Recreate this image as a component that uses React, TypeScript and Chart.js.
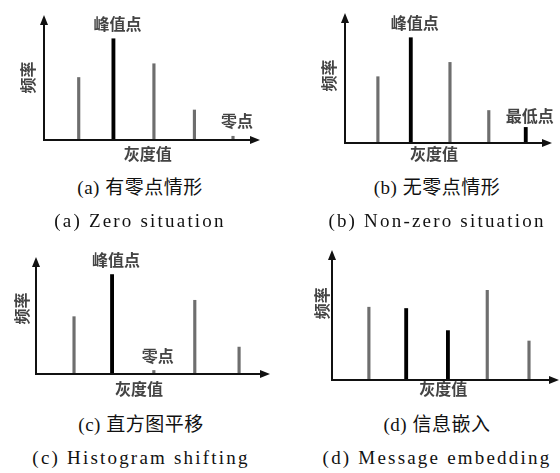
import React, { useEffect, useRef } from "react";
import { Chart, registerables } from "chart.js";

Chart.register(...registerables);

// ---- data (gray levels, frequencies, bar roles) ----
const LEVELS_A = [0.9, 1.8, 2.85, 3.9, 4.9];
const FREQ_A = [50, 81, 61, 24, 3];
const ROLE_A = ["n", "p", "n", "n", "n"];
const NOTES_A = [
  { text: "峰值点", at: 1 },
  { text: "零点", at: 4 },
];

const LEVELS_B = [0.89, 1.78, 2.84, 3.89, 4.89];
const FREQ_B = [51, 81, 62, 25, 12];
const ROLE_B = ["n", "p", "n", "n", "p"];
const NOTES_B = [
  { text: "峰值点", at: 1 },
  { text: "最低点", at: 4 },
];

const LEVELS_C = [0.91, 1.82, 2.82, 3.8, 4.86];
const FREQ_C = [49, 85, 3, 63, 23];
const ROLE_C = ["n", "p", "n", "n", "n"];
const NOTES_C = [
  { text: "峰值点", at: 1 },
  { text: "零点", at: 2 },
];

const LEVELS_D = [0.91, 1.83, 2.86, 3.83, 4.86];
const FREQ_D = [56, 55, 38, 69, 30];
const ROLE_D = ["n", "p", "p", "n", "n"];
const NOTES_D: { text: string; at: number }[] = [];

const X_TITLE = "灰度值";
const Y_TITLE = "频率";

const CAPTIONS_CN = ["(a) 有零点情形", "(b) 无零点情形", "(c) 直方图平移", "(d) 信息嵌入"];
const CAPTIONS_EN = ["(a) Zero situation", "(b) Non-zero situation", "(c) Histogram shifting", "(d) Message embedding"];

// ---- layout ----
type PanelLayout = {
  left: number; top: number; w: number; h: number;
  pad: { left: number; right: number; top: number; bottom: number };
  xTitleFrac: number; xTitleDy: number; yTitleDx: number; yTitleFrac: number;
};

const PANELS: { levels: number[]; freq: number[]; role: string[]; notes: { text: string; at: number }[]; layout: PanelLayout }[] = [
  { levels: LEVELS_A, freq: FREQ_A, role: ROLE_A, notes: NOTES_A,
    layout: { left: 0, top: 0, w: 280, h: 165, pad: { left: 44, right: 20, top: 15, bottom: 25 }, xTitleFrac: 0.48, xTitleDy: 14, yTitleDx: 16, yTitleFrac: 0.5 } },
  { levels: LEVELS_B, freq: FREQ_B, role: ROLE_B, notes: NOTES_B,
    layout: { left: 280, top: 0, w: 280, h: 165, pad: { left: 65, right: 8, top: 13, bottom: 22 }, xTitleFrac: 0.43, xTitleDy: 11, yTitleDx: 16, yTitleFrac: 0.48 } },
  { levels: LEVELS_C, freq: FREQ_C, role: ROLE_C, notes: NOTES_C,
    layout: { left: 0, top: 230, w: 280, h: 170, pad: { left: 36, right: 10, top: 27, bottom: 26 }, xTitleFrac: 0.44, xTitleDy: 15, yTitleDx: 14, yTitleFrac: 0.44 } },
  { levels: LEVELS_D, freq: FREQ_D, role: ROLE_D, notes: NOTES_D,
    layout: { left: 280, top: 230, w: 280, h: 170, pad: { left: 52, right: 1, top: 20, bottom: 20 }, xTitleFrac: 0.49, xTitleDy: 9, yTitleDx: 10, yTitleFrac: 0.41 } },
];

const CJK = '"Noto Sans CJK SC", "Noto Sans", sans-serif';
const GRAY = "#6e6e6e";
const TEXT = "#444";

function drawArrowAxes(chart: any) {
  const { ctx, chartArea } = chart;
  const { left, right, top, bottom } = chartArea;
  ctx.save();
  ctx.strokeStyle = "#111";
  ctx.fillStyle = "#111";
  ctx.lineWidth = 2;
  ctx.beginPath();
  ctx.moveTo(left, bottom);
  ctx.lineTo(right - 6, bottom);
  ctx.moveTo(left, bottom + 1);
  ctx.lineTo(left, top + 6);
  ctx.stroke();
  // x arrow
  ctx.beginPath();
  ctx.moveTo(right, bottom);
  ctx.lineTo(right - 10, bottom - 4);
  ctx.lineTo(right - 10, bottom + 4);
  ctx.closePath();
  ctx.fill();
  // y arrow
  ctx.beginPath();
  ctx.moveTo(left, top);
  ctx.lineTo(left - 4, top + 10);
  ctx.lineTo(left + 4, top + 10);
  ctx.closePath();
  ctx.fill();
  ctx.restore();
}

function Panel({ idx }: { idx: number }) {
  const ref = useRef<HTMLCanvasElement>(null);
  const p = PANELS[idx];
  const L = p.layout;
  useEffect(() => {
    if (!ref.current) return;
    const pts = p.levels.map((x, i) => ({ x, y: p.freq[i], r: p.role[i] }));
    const peak = pts.filter((d) => d.r === "p");
    const normal = pts.filter((d) => d.r !== "p");
    const plugin = {
      id: "decor" + idx,
      afterDatasetsDraw(chart: any) {
        drawArrowAxes(chart);
        const { ctx, chartArea, scales } = chart;
        ctx.save();
        ctx.fillStyle = TEXT;
        ctx.font = "bold 16px " + CJK;
        ctx.textAlign = "center";
        ctx.textBaseline = "middle";
        p.notes.forEach((n) => {
          const x = scales.x.getPixelForValue(p.levels[n.at]);
          const y = scales.y.getPixelForValue(p.freq[n.at]);
          const dy = p.freq[n.at] > 8 && p.freq[n.at] < 20 ? 11 : 15;
          ctx.fillText(n.text, x + 4, y - dy);
        });
        // x title
        const xc = chartArea.left + (chartArea.right - chartArea.left) * L.xTitleFrac;
        ctx.fillText(X_TITLE, xc, chartArea.bottom + L.xTitleDy);
        // y title
        ctx.font = "bold 16px " + CJK;
        const yc = chartArea.top + (chartArea.bottom - chartArea.top) * L.yTitleFrac;
        ctx.translate(chartArea.left - L.yTitleDx, yc);
        ctx.rotate(-Math.PI / 2);
        ctx.fillText(Y_TITLE, 0, 0);
        ctx.restore();
      },
    };
    const chart = new Chart(ref.current, {
      type: "bar",
      data: {
        datasets: [
          { data: normal as any, backgroundColor: GRAY, barThickness: 2.5, grouped: false } as any,
          { data: peak as any, backgroundColor: "#000", barThickness: 3.2, grouped: false } as any,
        ],
      },
      options: {
        responsive: false,
        maintainAspectRatio: false,
        animation: false,
        layout: { padding: L.pad },
        plugins: { legend: { display: false }, tooltip: { enabled: false } },
        scales: {
          x: { type: "linear", min: 0, max: 5.6, offset: false, display: false },
          y: { min: 0, max: 100, display: false },
        },
      },
      plugins: [plugin],
    });
    return () => chart.destroy();
  }, []);
  return (
    <canvas
      ref={ref}
      width={L.w}
      height={L.h}
      style={{ position: "absolute", left: L.left, top: L.top, width: L.w, height: L.h }}
    />
  );
}

const CAP_POS = [
  { cx: 140, yCn: 188, yEn: 221 },
  { cx: 437, yCn: 188, yEn: 221 },
  { cx: 141, yCn: 425, yEn: 458 },
  { cx: 437, yCn: 425, yEn: 458 },
];

export default function App() {
  const capStyle = (cx: number, y: number, en: boolean): React.CSSProperties => ({
    position: "absolute",
    left: cx - 150,
    width: 300,
    top: y - 13,
    height: 26,
    lineHeight: "26px",
    textAlign: "center",
    fontFamily: '"Liberation Serif", "Noto Sans CJK SC", serif',
    fontSize: 19,
    letterSpacing: en ? 2.2 : 0.5,
    color: "#111",
    whiteSpace: "nowrap",
  });
  return (
    <div style={{ position: "absolute", left: 0, top: 0, width: 560, height: 473, background: "#fff", overflow: "hidden" }}>
      {PANELS.map((_, i) => (
        <Panel key={i} idx={i} />
      ))}
      {CAP_POS.map((c, i) => (
        <React.Fragment key={i}>
          <div style={capStyle(c.cx, c.yCn, false)}>{CAPTIONS_CN[i]}</div>
          <div style={capStyle(c.cx, c.yEn, true)}>{CAPTIONS_EN[i]}</div>
        </React.Fragment>
      ))}
    </div>
  );
}
